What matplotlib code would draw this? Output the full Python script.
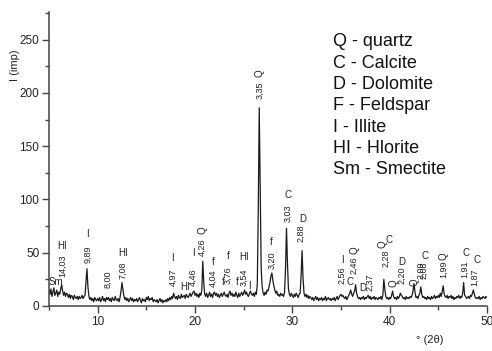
import numpy as np
import matplotlib.pyplot as plt
from matplotlib.ticker import MultipleLocator

plt.rcParams['font.family'] = ['Liberation Sans', 'DejaVu Sans']

# scan from 5.0 to 50.0 deg 2theta, step 0.1 (one row per degree)
rows = [
    [14, 11, 16, 9, 13, 17, 10, 12, 15, 9],     # 5
    [13, 11, 16, 20, 14, 10, 13, 9, 12, 11],    # 6
    [8, 11, 7, 10, 9, 6, 10, 8, 7, 9],          # 7
    [6, 9, 7, 8, 10, 7, 9, 10, 22, 35],         # 8
    [18, 9, 6, 8, 5, 7, 4, 8, 6, 5],            # 9
    [7, 5, 8, 4, 6, 9, 5, 7, 4, 8],             # 10
    [6, 8, 5, 7, 4, 8, 6, 5, 9, 6],             # 11
    [5, 7, 4, 8, 14, 22, 15, 9, 6, 8],          # 12
    [5, 7, 4, 6, 8, 5, 7, 4, 6, 5],             # 13
    [7, 4, 6, 8, 5, 3, 7, 5, 6, 4],             # 14
    [8, 6, 9, 5, 7, 6, 8, 4, 6, 5],             # 15
    [4, 6, 3, 5, 7, 4, 6, 3, 5, 4],             # 16
    [6, 4, 7, 5, 8, 6, 9, 7, 12, 9],            # 17
    [7, 9, 6, 10, 8, 7, 11, 8, 9, 10],          # 18
    [7, 11, 9, 8, 10, 12, 9, 11, 13, 14],       # 19
    [10, 12, 9, 11, 8, 12, 10, 15, 42, 22],     # 20
    [11, 9, 12, 8, 10, 13, 9, 11, 8, 12],       # 21
    [13, 10, 12, 9, 11, 8, 10, 12, 9, 11],      # 22
    [13, 10, 9, 11, 8, 12, 14, 10, 12, 9],      # 23
    [11, 9, 13, 10, 8, 12, 9, 11, 13, 10],      # 24
    [12, 15, 11, 13, 10, 9, 12, 14, 11, 10],    # 25
    [12, 9, 13, 11, 20, 90, 186, 110, 35, 18],  # 26
    [12, 10, 13, 11, 15, 14, 18, 22, 28, 31],   # 27
    [24, 19, 15, 12, 14, 10, 11, 9, 12, 10],    # 28
    [11, 9, 13, 35, 73, 40, 16, 11, 9, 12],     # 29
    [10, 8, 11, 9, 12, 10, 8, 11, 12, 28],      # 30
    [52, 26, 12, 9, 11, 8, 10, 7, 9, 8],        # 31
    [6, 8, 5, 7, 9, 6, 8, 5, 7, 6],             # 32
    [8, 5, 7, 6, 9, 5, 7, 8, 6, 7],             # 33
    [5, 7, 6, 8, 5, 7, 9, 6, 8, 10],            # 34
    [11, 9, 10, 8, 7, 9, 6, 8, 10, 12],         # 35
    [15, 11, 9, 12, 14, 20, 12, 9, 7, 8],       # 36
    [6, 8, 7, 9, 6, 8, 7, 9, 10, 7],            # 37
    [9, 6, 8, 7, 9, 6, 8, 7, 6, 8],             # 38
    [7, 9, 6, 10, 25, 16, 9, 7, 8, 6],          # 39
    [8, 7, 10, 14, 9, 7, 8, 6, 9, 7],           # 40
    [9, 12, 10, 9, 7, 8, 6, 9, 7, 8],           # 41
    [7, 9, 8, 10, 14, 21, 13, 8, 9, 7],         # 42
    [10, 12, 18, 11, 8, 9, 7, 8, 6, 9],         # 43
    [7, 8, 6, 9, 7, 8, 10, 7, 9, 8],            # 44
    [10, 8, 12, 9, 14, 19, 11, 9, 8, 10],       # 45
    [7, 9, 8, 10, 7, 9, 6, 8, 7, 9],            # 46
    [8, 10, 7, 9, 8, 12, 22, 10, 9, 7],         # 47
    [8, 9, 7, 10, 9, 12, 15, 11, 8, 7],         # 48
    [8, 7, 9, 6, 8, 7, 9, 8, 7, 9],             # 49
]
last_value = 8
intensity = [v for r in rows for v in r] + [last_value]
two_theta = [5 + i * 0.1 for i in range(len(intensity))]

# d-spacing labels (rotated)
d_x = [6.36, 8.95, 11.01, 12.56, 17.73, 19.80, 20.73, 21.87, 23.42, 25.08,
       26.63, 27.87, 29.52, 30.87, 35.11, 36.35, 38.0, 39.66, 41.21, 43.2,
       43.55, 45.55, 47.72, 48.76]
d_y = [37.6, 48.9, 25.4, 33.9, 27.3, 27.3, 55.5, 26.3, 29.2, 27.3,
       203, 43.3, 87.5, 68.7, 29.2, 38.6, 22.6, 45.2, 29.2, 33.9,
       33.9, 34.8, 34.8, 27.3]
d_txt = ["14,03", "9,89", "8,00", "7,08", "4,97", "4,46", "4,26", "4,04", "3,76", "3,54",
         "3,35", "3,20", "3,03", "2,88", "2,56", "2,46", "2,37", "2,28", "2,20", "2,09",
         "2,08", "1,99", "1,91", "1,87"]

# mineral letters
m_x = [5.74, 6.36, 8.95, 12.56, 17.73, 18.98, 19.80, 20.73, 21.87, 22.90,
       23.42, 24.35, 25.08, 25.59, 26.63, 27.87, 29.52, 31.08, 35.11, 35.94,
       36.35, 37.28, 39.25, 39.95, 40.38, 41.21, 42.55, 43.65, 45.55, 47.83,
       48.96]
m_y = [22.6, 56.4, 67.7, 49.9, 45.2, 17.9, 49.9, 71.5, 41.4, 22.6,
       47.0, 22.6, 46.1, 18.8, 219, 60.2, 104.4, 81.8, 43.3, 22.6,
       52.7, 16.9, 58.0, 62.0, 21.6, 41.4, 22.6, 46.5, 47.0, 49.9,
       43.3]
m_txt = ["Sm", "HI", "I", "HI", "I", "HI", "I", "Q", "f", "f",
         "f", "f", "HI", "I", "Q", "f", "C", "D", "I", "C",
         "Q", "D", "Q", "C", "Q", "D", "Q", "C", "Q", "C",
         "C"]

legend_lines = ["Q - quartz", "C - Calcite", "D - Dolomite", "F - Feldspar",
                "I - Illite", "HI - Hlorite", "Sm - Smectite"]

W, H = 492, 351
fig = plt.figure(figsize=(W / 100, H / 100), dpi=100)
ax = fig.add_axes([49 / W, 1 - 306 / H, (487 - 49) / W, (306 - 12) / H])

ax.plot(two_theta, intensity, color='#1a1a1a', lw=0.9)

ax.set_xlim(5, 50)
ax.set_ylim(0, 276)
ax.xaxis.set_major_locator(MultipleLocator(10))
ax.xaxis.set_minor_locator(MultipleLocator(5))
ax.yaxis.set_major_locator(MultipleLocator(50))
ax.yaxis.set_minor_locator(MultipleLocator(25))
for s in ['top', 'right']:
    ax.spines[s].set_visible(False)
for s in ['left', 'bottom']:
    ax.spines[s].set_color('#444444')
    ax.spines[s].set_linewidth(1.1)
ax.tick_params(which='major', length=5, width=1, color='#444444',
               labelsize=8.5, labelcolor='#222222', pad=2)
ax.tick_params(which='minor', length=3, width=1, color='#444444')

for x, y, t in zip(d_x, d_y, d_txt):
    ax.text(x, y, t, rotation=90, ha='center', va='center', fontsize=6.5, color='#222222')
for x, y, t in zip(m_x, m_y, m_txt):
    ax.text(x, y, t, rotation=90 if t == "Q" else 0, ha='center', va='center',
            fontsize=7, color='#222222')

for i, t in enumerate(legend_lines):
    fig.text(333 / W, 1 - (42 + i * 21.3) / H, t, ha='left', va='center',
             fontsize=13, color='#111111')

fig.text(15 / W, 1 - 65 / H, "I (imp)", rotation=90, ha='center', va='center',
         fontsize=8, color='#222222')
fig.text(430 / W, 1 - 340 / H, "° (2θ)", ha='center', va='center',
         fontsize=8, color='#222222')

fig.savefig("out.png", dpi=100)
